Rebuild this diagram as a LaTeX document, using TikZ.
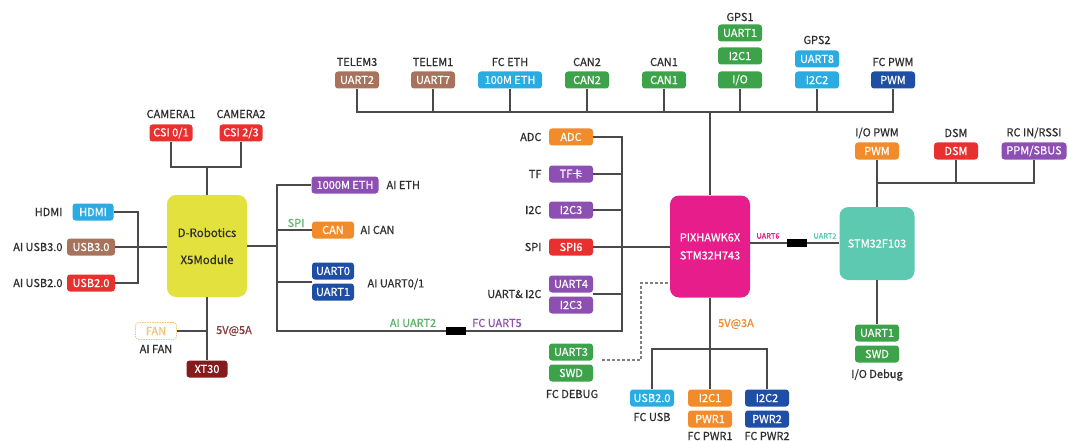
\documentclass[tikz,border=0pt]{standalone}
\usepackage{fontspec}
\setmainfont{Noto Sans CJK SC}[FakeBold=0.6]
\usetikzlibrary{calc}
\definecolor{cRed}{HTML}{E8312F}
\definecolor{cSky}{HTML}{2AACE2}
\definecolor{cBrown}{HTML}{A8735C}
\definecolor{cPurple}{HTML}{8D4FB2}
\definecolor{cOrange}{HTML}{F28B2A}
\definecolor{cGreen}{HTML}{3DA34B}
\definecolor{cNavy}{HTML}{1F4FA5}
\definecolor{cMagenta}{HTML}{E71D8B}
\definecolor{cTeal}{HTML}{5DC9B1}
\definecolor{cYellow}{HTML}{E3E13D}
\definecolor{cMaroon}{HTML}{861B1E}
\definecolor{cFan}{HTML}{F3C27A}
\definecolor{cTxt}{HTML}{2E2E2E}
\definecolor{cWire}{HTML}{4A4A4A}
\definecolor{cLime}{HTML}{5DB86B}
\definecolor{cVolt}{HTML}{8B3A3A}
\begin{document}
\begin{tikzpicture}[x=1pt,y=-1pt,
  every node/.style={font=\fontsize{11}{13}\selectfont},
  tag/.style={fill=#1, rounded corners=3pt, minimum height=17pt, minimum width=44pt, inner sep=1pt, text=white},
  lbl/.style={text=cTxt},
  chip/.style={fill=#1, rounded corners=9pt, minimum width=80pt, minimum height=102pt, align=center, inner sep=0pt},
  wire/.style={draw=cWire, line width=1.1pt},
  dbgline/.style={draw=gray, line width=1.1pt, dash pattern=on 3pt off 2pt},
  plug/.style={fill=black, minimum width=20pt, minimum height=8pt, inner sep=0pt},
  small/.style={font=\fontsize{7.5}{9}\selectfont}
]
\fill[white] (0,0) rectangle (1068,441);
\useasboundingbox (0,0) rectangle (1068,441);

% ---------- D-Robotics X5 ----------
\node[chip=cYellow, text=cTxt, font=\fontsize{11.5}{13}\selectfont] (x5) at (207,246) {D-Robotics\\[14pt]X5Module};

\node[lbl] (cam1) at (171,114) {CAMERA1};
\node[tag=cRed, minimum width=43pt] (csi01) at (171,133) {CSI 0/1};
\node[lbl] (cam2) at (241,114) {CAMERA2};
\node[tag=cRed, minimum width=43pt] (csi23) at (241,133) {CSI 2/3};
\coordinate (camjoin) at (207,167);
\draw[wire] (csi01.south) |- (camjoin) -| (csi23.south);
\draw[wire] (camjoin) -- (x5.north);

\node[tag=cSky, minimum width=41pt] (hdmi) at (93,212) {HDMI};
\node[lbl, anchor=east] (hdmil) at (66,212) {HDMI};
\node[tag=cBrown, minimum width=48pt] (usb3) at (91,247) {USB3.0};
\node[lbl, anchor=east] (usb3l) at (66,247) {AI USB3.0};
\node[tag=cRed, minimum width=48pt] (usb2) at (91,283) {USB2.0};
\node[lbl, anchor=east] (usb2l) at (66,283) {AI USB2.0};
\coordinate (lbus) at (138,247);
\draw[wire] (hdmi.east) -| (lbus) |- (usb2.east);
\draw[wire] (usb3.east) -- (usb3.east -| x5.west);

\node[tag=white, draw=cFan, dash pattern=on 1.5pt off 1pt, line width=0.8pt, text=cFan, minimum width=41pt, minimum height=17pt] (fan) at (156,331) {FAN};
\node[lbl] (fanl) at (156,349) {AI FAN};
\node[text=cVolt] (v5a) at (234,331) {5V@5A};
\node[tag=cMaroon, minimum width=41pt] (xt30) at (207,369) {XT30};
\draw[wire] (x5.south) -- (xt30.north);
\draw[wire] (fan.east) -- (fan.east -| x5.south);

% ---------- X5 right side ----------
\coordinate (rbT) at (277,184);
\coordinate (rbB) at (277,331);
\node[tag=cPurple, minimum width=67pt] (eth1000) at (345,185) {1000M ETH};
\node[lbl, anchor=west] (aieth) at (383,185) {AI ETH};
\node[text=cLime] (spil) at (296,223) {SPI};
\node[tag=cOrange, minimum width=42pt] (can) at (333,230) {CAN};
\node[lbl, anchor=west] (aican) at (357,230) {AI CAN};
\node[tag=cNavy, minimum width=42pt] (uart0) at (333,271) {UART0};
\node[tag=cNavy, minimum width=42pt] (uart1a) at (333,292) {UART1};
\node[lbl, anchor=west] (aiu01) at (364,284) {AI UART0/1};
\coordinate (u01) at (312,282);
\node[text=cGreen!85!white] (aiu2) at (413,323) {AI UART2};
\node[plug] (plugA) at (456,331) {};
\node[text=cPurple] (fcu5) at (497,323) {FC UART5};

\draw[wire] (x5.east) -- (x5.east -| rbT);
\draw[wire] (eth1000.west) -| (rbB) -- (plugA.west);
\draw[wire] (can.west) -- (can.west -| rbT);
\draw[wire] (u01) -- (u01 -| rbT);

% ---------- FC left column ----------
\coordinate (vb) at (622,137);
\node[tag=cOrange] (adc) at (571,137) {ADC};
\node[lbl, anchor=east] (adcl) at (545,137) {ADC};
\node[tag=cPurple] (tf) at (571,174) {TF{\fontsize{10}{12}\selectfont 卡}};
\node[lbl, anchor=east] (tfl) at (545,174) {TF};
\node[tag=cPurple] (i2c3a) at (571,210) {I2C3};
\node[lbl, anchor=east] (i2cl) at (545,210) {I2C};
\node[tag=cRed] (spi6) at (571,247) {SPI6};
\node[lbl, anchor=east] (spil2) at (545,247) {SPI};
\node[tag=cPurple] (uart4) at (571,284) {UART4};
\node[tag=cPurple] (i2c3b) at (571,305) {I2C3};
\node[lbl, anchor=east] (uil) at (545,294) {UART\& I2C};
\coordinate (u4j) at (593,294);

\draw[wire] (plugA.east) -| (vb) -- (adc.east);
\draw[wire] (tf.east) -- (tf.east -| vb);
\draw[wire] (i2c3a.east) -- (i2c3a.east -| vb);
\draw[wire] (u4j) -- (u4j -| vb);

\node[tag=cGreen] (uart3) at (571,352) {UART3};
\node[tag=cGreen] (swd1) at (571,373) {SWD};
\node[lbl] (fcdbg) at (572,394) {FC DEBUG};

% ---------- Pixhawk ----------
\node[chip=cMagenta, text=white] (px) at (710,246.5) {PIXHAWK6X\\[5pt]STM32H743};
\draw[wire] (spi6.east) -- (spi6.east -| px.west);
\coordinate (dbgS) at (602,360);
\coordinate (dbgC) at (641,283);
\draw[dbgline] (dbgS) -| (dbgC) -- (dbgC -| px.west);

% ---------- top bus ----------
\coordinate (topbus) at (0,112);
\node[lbl] (telem3) at (357,62) {TELEM3};
\node[tag=cBrown] (uart2t) at (357,80) {UART2};
\node[lbl] (telem1) at (433,62) {TELEM1};
\node[tag=cBrown] (uart7) at (433,80) {UART7};
\node[lbl] (fceth) at (510,62) {FC ETH};
\node[tag=cSky, minimum width=64pt] (eth100) at (510,80) {100M ETH};
\node[lbl] (can2l) at (587,62) {CAN2};
\node[tag=cGreen] (can2) at (587,80) {CAN2};
\node[lbl] (can1l) at (664,62) {CAN1};
\node[tag=cGreen] (can1) at (664,80) {CAN1};
\node[lbl] (gps1) at (740,17) {GPS1};
\node[tag=cGreen] (gu1) at (740,33) {UART1};
\node[tag=cGreen] (gi1) at (740,56) {I2C1};
\node[tag=cGreen] (gio) at (740,80) {I/O};
\node[lbl] (gps2) at (817,40) {GPS2};
\node[tag=cSky] (gu8) at (817,59) {UART8};
\node[tag=cSky] (gi2) at (817,80) {I2C2};
\node[lbl] (fcpwml) at (893,62) {FC PWM};
\node[tag=cNavy] (fcpwm) at (893,80) {PWM};

\draw[wire] (uart2t.south) |- (fcpwm.south |- topbus) -- (fcpwm.south);
\foreach \n in {uart7,eth100,can2,can1,gio,gi2}
  \draw[wire] (\n.south) -- (\n.south |- topbus);
\draw[wire] (px.north) -- (px.north |- topbus);

% ---------- bottom of Pixhawk ----------
\coordinate (botbus) at (0,349);
\node[text=cOrange] (v3a) at (736,324) {5V@3A};
\node[tag=cSky] (usbfc) at (652,398) {USB2.0};
\node[lbl] (fcusb) at (652,417) {FC USB};
\node[tag=cOrange] (pi2c1) at (710,398) {I2C1};
\node[tag=cOrange] (pwr1) at (710,419) {PWR1};
\node[lbl] (fcpwr1) at (710,436) {FC PWR1};
\node[tag=cNavy] (pi2c2) at (767,398) {I2C2};
\node[tag=cNavy] (pwr2) at (767,419) {PWR2};
\node[lbl] (fcpwr2) at (767,436) {FC PWR2};
\draw[wire] (px.south) -- (px.south |- botbus);
\draw[wire] (usbfc.north) |- (pi2c2.north |- botbus) -- (pi2c2.north);
\draw[wire] (pi2c1.north) -- (pi2c1.north |- botbus);

% ---------- STM32F103 ----------
\node[fill=cTeal, rounded corners=9pt, minimum width=75pt, minimum height=73pt, text=white, inner sep=0pt] (stm) at (877,243.5) {STM32F103};
\node[plug] (plugB) at (797,243) {};
\node[small, text=cMagenta] (u6l) at (768,236) {UART6};
\node[small, text=cTeal] (u2l) at (825,236) {UART2};
\draw[wire] (px.east |- plugB) -- (plugB.west);
\draw[wire] (plugB.east) -- (plugB.east -| stm.west);

\coordinate (rbus) at (0,183);
\node[lbl] (iopwml) at (877,133) {I/O PWM};
\node[tag=cOrange] (iopwm) at (877,151) {PWM};
\node[lbl] (dsml) at (956,133) {DSM};
\node[tag=cRed] (dsm) at (956,151) {DSM};
\node[lbl] (rcin) at (1034,133) {RC IN/RSSI};
\node[tag=cPurple, minimum width=65pt] (ppm) at (1034,151) {PPM/SBUS};
\draw[wire] (stm.north) -- (iopwm.south);
\draw[wire] (iopwm.south |- rbus) -| (ppm.south);
\draw[wire] (dsm.south) -- (dsm.south |- rbus);

\node[tag=cGreen] (iou1) at (877,333) {UART1};
\node[tag=cGreen] (ioswd) at (877,354) {SWD};
\node[lbl] (iodbg) at (877,375) {I/O Debug};
\draw[wire] (stm.south) -- (iou1.north);
\end{tikzpicture}
\end{document}
